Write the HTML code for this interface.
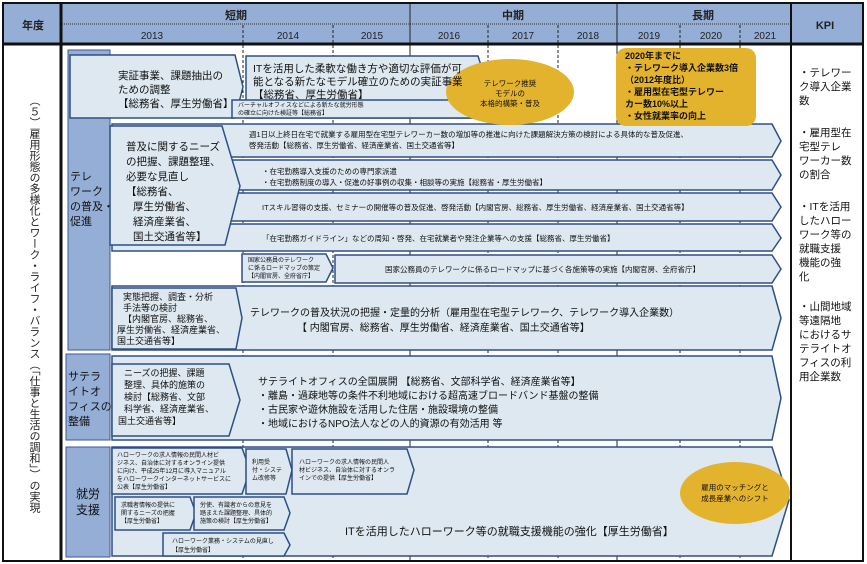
<!DOCTYPE html>
<html><head><meta charset="utf-8"><style>
body{margin:0;background:#fff}
svg{display:block;font-family:"Liberation Sans","Noto Sans CJK JP",sans-serif}
</style></head><body>
<svg width="867" height="564" viewBox="0 0 867 564" xmlns="http://www.w3.org/2000/svg">
<rect x="0" y="0" width="867" height="564" fill="#fff"/>
<!-- header -->
<rect x="4" y="4" width="858" height="40" fill="#95aed6"/>
<line x1="62" y1="24" x2="790" y2="24" stroke="#333" stroke-dasharray="1,1"/>
<g fill="#222" font-size="11" text-anchor="middle">
<text x="33" y="29" font-weight="bold">年度</text>
<text x="236" y="19" font-weight="bold">短期</text>
<text x="513" y="19" font-weight="bold">中期</text>
<text x="703" y="19" font-weight="bold">長期</text>
<text x="825" y="29" font-weight="bold">KPI</text>
<text x="152" y="39" font-size="10">2013</text>
<text x="288" y="39" font-size="10">2014</text>
<text x="372" y="39" font-size="10">2015</text>
<text x="449" y="39" font-size="10">2016</text>
<text x="523" y="39" font-size="10">2017</text>
<text x="588" y="39" font-size="10">2018</text>
<text x="649" y="39" font-size="10">2019</text>
<text x="711" y="39" font-size="10">2020</text>
<text x="765" y="39" font-size="10">2021</text>
</g>
<!-- grid lines -->
<g stroke="#222">
<line x1="243" y1="25" x2="243" y2="560" stroke-dasharray="3,2"/>
<line x1="333" y1="25" x2="333" y2="560" stroke-dasharray="3,2"/>
<line x1="410" y1="4" x2="410" y2="560"/>
<line x1="488" y1="25" x2="488" y2="560" stroke-dasharray="3,2"/>
<line x1="558" y1="25" x2="558" y2="560" stroke-dasharray="3,2"/>
<line x1="617" y1="4" x2="617" y2="560"/>
<line x1="680" y1="25" x2="680" y2="560" stroke-dasharray="3,2"/>
<line x1="740" y1="25" x2="740" y2="560" stroke-dasharray="3,2"/>
</g>
<line x1="61" y1="4" x2="61" y2="560" stroke="#111" stroke-width="3"/>
<line x1="791" y1="4" x2="791" y2="560" stroke="#111" stroke-width="2"/>
<line x1="4" y1="44" x2="862" y2="44" stroke="#111" stroke-width="3"/>
<rect x="3" y="3" width="860" height="558" fill="none" stroke="#111" stroke-width="2"/>

<!-- left vertical text -->
<text font-size="11" fill="#222" writing-mode="tb" x="34" y="95" style="writing-mode:vertical-rl">（５）雇用形態の多様化とワーク・ライフ・バランス（「仕事と生活の調和」）の実現</text>

<!-- category boxes -->
<g fill="#95aed6" stroke="#3a5a90">
<rect x="68" y="50" width="42" height="300"/>
<rect x="66" y="354" width="44" height="86"/>
<rect x="66" y="447" width="44" height="110"/>
</g>
<g font-size="11" fill="#111">
<text x="70" y="180">テレ</text><text x="70" y="195">ワーク</text><text x="70" y="210">の普及・</text><text x="70" y="225">促進</text>
<text x="68" y="380">サテラ</text><text x="68" y="395">イトオ</text><text x="68" y="410">フィスの</text><text x="68" y="425">整備</text>
<text x="76" y="498" font-size="12">就労</text><text x="76" y="514" font-size="12">支援</text>
</g>

<!-- bands -->
<g fill="#dde8f0" stroke="#2e4f86" stroke-width="1.5">
<polygon points="70,55 235,55 243,87 235,118 70,118"/>
<polygon points="246,56 478,56 488,87 478,118 246,118"/>
<polygon points="232,100 472,100 478,109 472,118 232,118"/>
<polygon points="112,124 772,124 781,141 772,157 112,157"/>
<polygon points="112,160 772,160 781,175 772,190 112,190"/>
<polygon points="112,193 772,193 781,207 772,221 112,221"/>
<polygon points="112,224 772,224 781,238 772,251 112,251"/>
<polygon points="110,126 222,126 240,186 225,245 110,245"/>
<polygon points="242,254 326,254 333,268 326,282 242,282"/>
<polygon points="335,255 772,255 781,269 772,283 335,283"/>
<polygon points="112,286 772,286 781,318 772,350 112,350"/>
<polygon points="112,288 236,288 242,318 236,349 112,349"/>
<polygon points="112,356 772,356 781,398 772,440 112,440"/>
<polygon points="112,364 229,364 240,400 229,436 112,436"/>
<polygon points="112,447 772,447 789,500 772,556 112,556"/>
<polygon points="112,448 242,448 250,470 242,494 112,494"/>
<polygon points="246,449 286,449 292,470 286,494 246,494"/>
<polygon points="292,449 407,449 414,470 407,494 292,494"/>
<polygon points="115,497 190,497 196,513 190,530 115,530"/>
<polygon points="194,497 284,497 290,513 284,530 194,530"/>
<polygon points="163,533 284,533 290,545 284,556 163,556"/>
</g>

<!-- gold -->
<ellipse cx="510" cy="92" rx="64" ry="33" fill="#e4b32e"/>
<rect x="616" y="48" width="140" height="78" rx="10" fill="#e4b32e"/>
<ellipse cx="735" cy="493" rx="55" ry="31" fill="#e4b32e"/>

<!-- texts -->
<g fill="#111">
<g font-size="10.5">
<text x="118" y="79">実証事業、課題抽出の</text><text x="118" y="93">ための調整</text><text x="118" y="107">【総務省、厚生労働省】</text>
<text x="253" y="72">ITを活用した柔軟な働き方や適切な評価が可</text><text x="253" y="85">能となる新たなモデル確立のための実証事業</text><text x="253" y="98">【総務省、厚生労働省】</text>
<text x="126" y="150">普及に関するニーズ</text><text x="126" y="165">の把握、課題整理、</text><text x="126" y="180">必要な見直し</text><text x="126" y="195">【総務省、</text><text x="133" y="210">厚生労働省、</text><text x="133" y="225">経済産業省、</text><text x="133" y="240">国土交通省等】</text>
</g>
<g font-size="6">
<text x="238" y="107">バーチャルオフィスなどによる新たな就労形態</text><text x="238" y="115">の確立に向けた検証等【総務省】</text>
<text x="248" y="262">国家公務員のテレワーク</text><text x="248" y="270">に係るロードマップの策定</text><text x="248" y="278">【内閣官房、全府省庁】</text>
</g>
<g font-size="7.5">
<text x="249" y="137">週1日以上終日在宅で就業する雇用型在宅型テレワーカー数の増加等の推進に向けた課題解決方策の検討による具体的な普及促進、</text>
<text x="249" y="148">啓発活動【総務省、厚生労働省、経済産業省、国土交通省等】</text>
<text x="262" y="174">・在宅勤務導入支援のための専門家派遣</text>
<text x="262" y="185">・在宅勤務制度の導入・促進の好事例の収集・相談等の実施【総務省・厚生労働省】</text>
<text x="262" y="210">ITスキル習得の支援、セミナーの開催等の普及促進、啓発活動【内閣官房、総務省、厚生労働省、経済産業省、国土交通省等】</text>
<text x="262" y="241">「在宅勤務ガイドライン」などの周知・啓発、在宅就業者や発注企業等への支援【総務省、厚生労働省】</text>
<text x="385" y="272">国家公務員のテレワークに係るロードマップに基づく各施策等の実施【内閣官房、全府省庁】</text>
</g>
<g font-size="9">
<text x="123" y="300">実態把握、調査・分析</text><text x="123" y="311">手法等の検討</text><text x="123" y="322">【内閣官房、総務省、</text><text x="117" y="333">厚生労働省、経済産業省、</text><text x="117" y="344">国土交通省等】</text>
<text x="124" y="376">ニーズの把握、課題</text><text x="124" y="388">整理、具体的施策の</text><text x="124" y="400">検討【総務省、文部</text><text x="124" y="412">科学省、経済産業省、</text><text x="118" y="424">国土交通省等】</text>
</g>
<g font-size="10">
<text x="250" y="316">テレワークの普及状況の把握・定量的分析（雇用型在宅型テレワーク、テレワーク導入企業数）</text>
<text x="297" y="331">【 内閣官房、総務省、厚生労働省、経済産業省、国土交通省等】</text>
<text x="258" y="385">サテライトオフィスの全国展開 【総務省、文部科学省、経済産業省等】</text>
<text x="258" y="399">・離島・過疎地等の条件不利地域における超高速ブロードバンド基盤の整備</text>
<text x="258" y="413">・古民家や遊休施設を活用した住居・施設環境の整備</text>
<text x="258" y="427">・地域におけるNPO法人などの人的資源の有効活用 等</text>
<text x="345" y="535" font-size="11">ITを活用したハローワーク等の就職支援機能の強化【厚生労働省】</text>
</g>
<g font-size="6">
<text x="117" y="457">ハローワークの求人情報の民間人材ビ</text><text x="117" y="465">ジネス、自治体に対するオンライン提供</text><text x="117" y="473">に向け、平成25年12月に導入マニュアル</text><text x="117" y="481">をハローワークインターネットサービスに</text><text x="117" y="489">公表【厚生労働省】</text>
<text x="252" y="464">利用受</text><text x="252" y="472">付・システ</text><text x="252" y="480">ム改修等</text>
<text x="299" y="464">ハローワークの求人情報の民間人</text><text x="299" y="472">材ビジネス、自治体に対するオンラ</text><text x="299" y="480">インでの提供【厚生労働省】</text>
<text x="121" y="507">求職者情報の提供に</text><text x="121" y="515">関するニーズの把握</text><text x="121" y="523">【厚生労働省】</text>
<text x="200" y="507">労使、有識者からの意見を</text><text x="200" y="515">踏まえた課題整理、具体的</text><text x="200" y="523">施策の検討【厚生労働省】</text>
<text x="172" y="543">ハローワーク業務・システムの見直し</text><text x="172" y="552">【厚生労働省】</text>
</g>
<g font-size="7.5" text-anchor="middle">
<text x="510" y="86">テレワーク推奨</text><text x="510" y="96">モデルの</text><text x="510" y="106">本格的構築・普及</text>
<text x="735" y="490">雇用のマッチングと</text><text x="735" y="501">成長産業へのシフト</text>
</g>
<g font-size="9" font-weight="bold">
<text x="625" y="59">2020年までに</text><text x="625" y="71">・テレワーク導入企業数3倍</text><text x="625" y="83">（2012年度比）</text><text x="625" y="95">・雇用型在宅型テレワー</text><text x="625" y="107">カー数10%以上</text><text x="625" y="119">・女性就業率の向上</text>
</g>
<g font-size="10.5">
<text x="799" y="76">・テレワー</text><text x="799" y="90">ク導入企業</text><text x="799" y="104">数</text>
<text x="799" y="136">・雇用型在</text><text x="799" y="150">宅型テレ</text><text x="799" y="164">ワーカー数</text><text x="799" y="178">の割合</text>
<text x="799" y="210">・ITを活用</text><text x="799" y="224">したハロー</text><text x="799" y="238">ワーク等の</text><text x="799" y="252">就職支援</text><text x="799" y="266">機能の強</text><text x="799" y="280">化</text>
<text x="799" y="310">・山間地域</text><text x="799" y="324">等遠隔地</text><text x="799" y="338">におけるサ</text><text x="799" y="352">テライトオ</text><text x="799" y="366">フィスの利</text><text x="799" y="380">用企業数</text>
</g>
</g>
</svg>
</body></html>
